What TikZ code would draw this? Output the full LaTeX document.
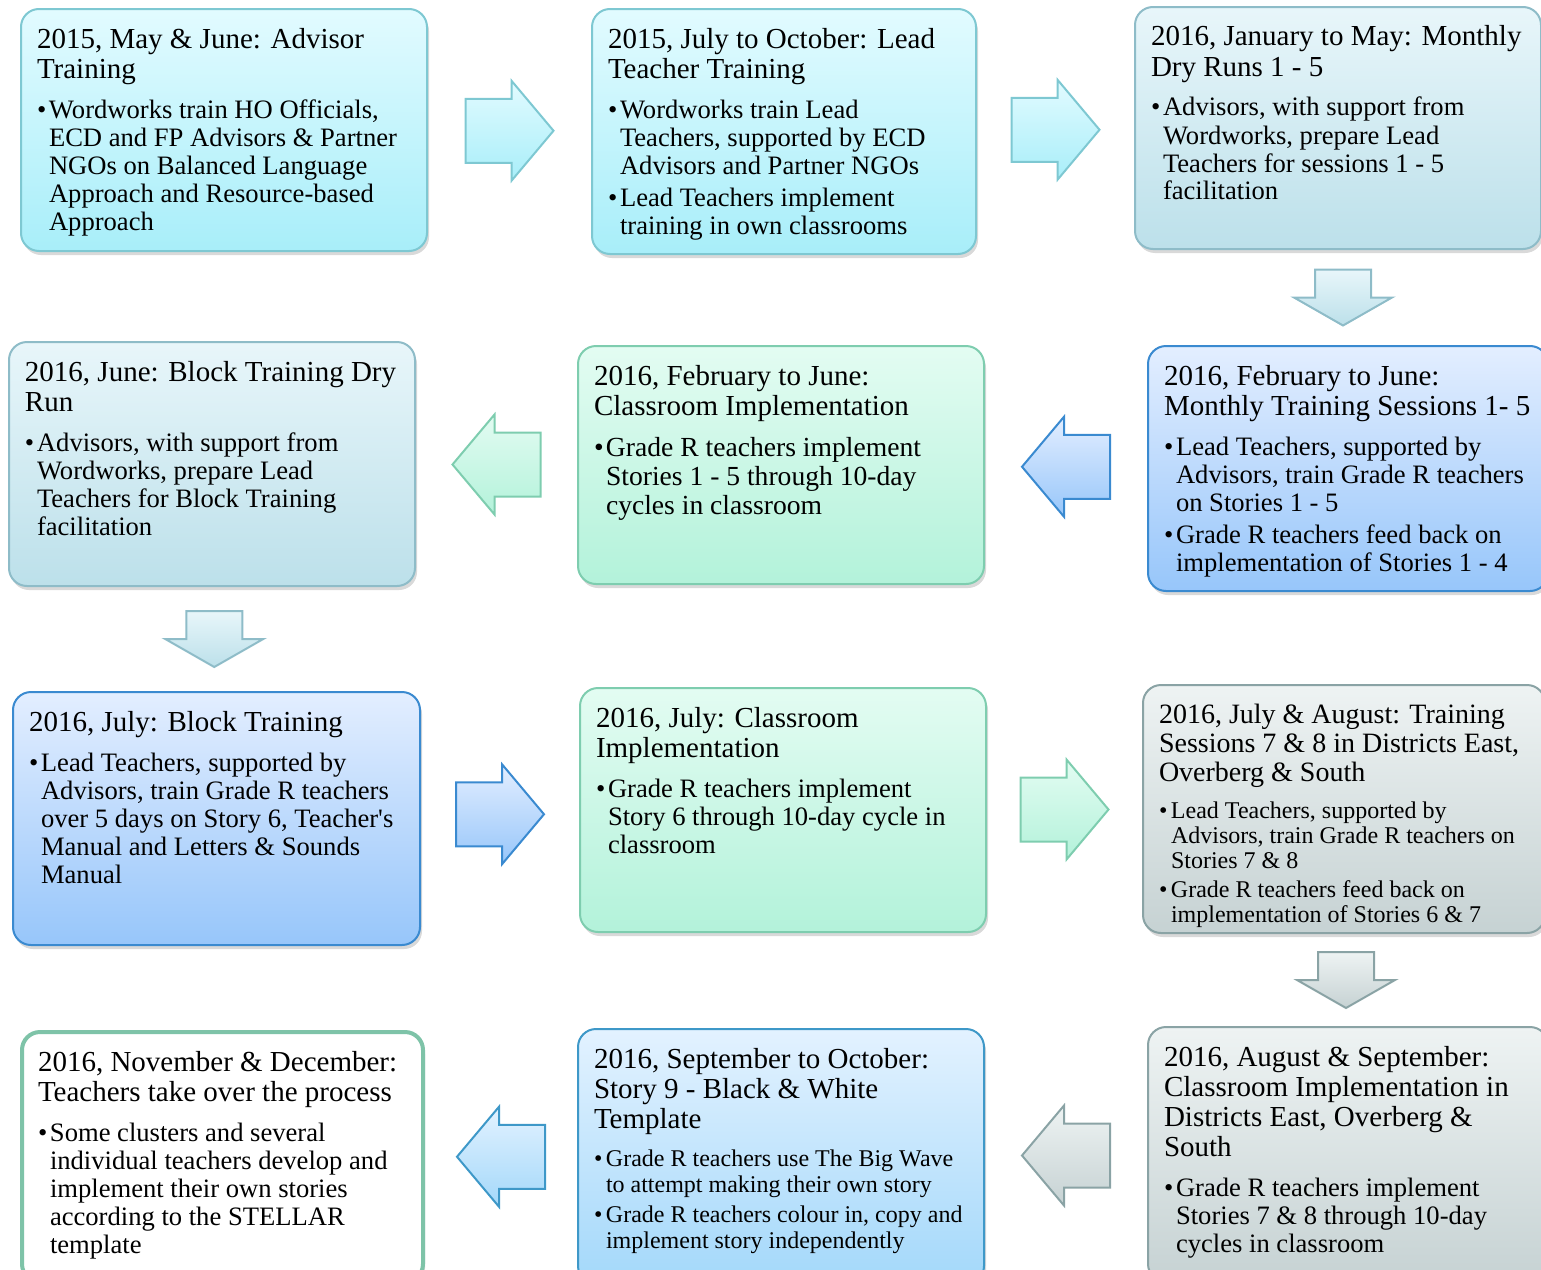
\documentclass[tikz,border=0pt]{standalone}
\usepackage{fontspec}
\setmainfont{Liberation Serif}
\usetikzlibrary{calc,shadows}

\definecolor{cyantop}{HTML}{E2FBFF}
\definecolor{cyanbot}{HTML}{A8EEF9}
\definecolor{cyanline}{HTML}{7EC8D2}
\definecolor{paletop}{HTML}{E8F6FA}
\definecolor{palebot}{HTML}{BCE0EA}
\definecolor{paleline}{HTML}{8EBCC8}
\definecolor{bluetop}{HTML}{E3EEFF}
\definecolor{bluebot}{HTML}{97C6FA}
\definecolor{blueline}{HTML}{3A8AD0}
\definecolor{minttop}{HTML}{E3FCF2}
\definecolor{mintbot}{HTML}{B3F2DA}
\definecolor{mintline}{HTML}{7ECDAF}
\definecolor{graytop}{HTML}{EEF3F3}
\definecolor{graybot}{HTML}{C6D2D3}
\definecolor{grayline}{HTML}{8AA3A5}
\definecolor{skytop}{HTML}{E3F2FF}
\definecolor{skybot}{HTML}{A3D8FA}
\definecolor{skyline}{HTML}{3E98C8}
\definecolor{lastline}{HTML}{7EC3A8}

% text block of a stage: width, height, content
\newcommand{\stagetext}[3]{\makebox[#1][l]{\parbox[t][#2][t]{\dimexpr#1+30pt\relax}{\rightskip=0pt plus 1fil #3}}}
\newcommand{\stagetitle}[1]{{\fontsize{14.5}{15}\selectfont\strut #1\par}\vspace{6pt}}
\newcommand{\stagebullet}[1]{\par\hangindent=6pt\hangafter=1\noindent\makebox[6pt][l]{\textbullet}#1\par\vspace{2pt}}

\tikzset{
  stage/.style={draw, line width=1pt, rounded corners=9pt, anchor=north west,
    inner xsep=8pt, inner ysep=9pt, font=\fontsize{13.3}{14}\selectfont,
    drop shadow={opacity=0.3, shadow xshift=1pt, shadow yshift=-2pt}},
  cyanbox/.style={stage, top color=cyantop, bottom color=cyanbot, draw=cyanline},
  palebox/.style={stage, top color=paletop, bottom color=palebot, draw=paleline},
  bluebox/.style={stage, top color=bluetop, bottom color=bluebot, draw=blueline},
  mintbox/.style={stage, top color=minttop, bottom color=mintbot, draw=mintline},
  graybox/.style={stage, top color=graytop, bottom color=graybot, draw=grayline},
  skybox/.style={stage, top color=skytop, bottom color=skybot, draw=skyline},
  lastbox/.style={stage, fill=white, draw=lastline, line width=2pt},
  blockarrow/.style={line width=1pt, drop shadow={opacity=0.25, shadow xshift=1pt, shadow yshift=-1.5pt}},
  rblock/.pic={\path[pic actions] (-44,-32) -- (2,-32) -- (2,-50) -- (44,0) -- (2,50) -- (2,32) -- (-44,32) -- cycle;},
  lblock/.pic={\path[pic actions] (44,-32) -- (-2,-32) -- (-2,-50) -- (-44,0) -- (-2,50) -- (-2,32) -- (44,32) -- cycle;},
  dblock/.pic={\path[pic actions] (-28,-28) -- (28,-28) -- (28,0) -- (49,0) -- (0,28) -- (-49,0) -- (-28,0) -- cycle;},
}

\begin{document}
\begin{tikzpicture}[x=0.5pt, y=-0.5pt]
\useasboundingbox (0,0) rectangle (1541,1269);

% row 1
\node[cyanbox] (s1) at (20,8) {\stagetext{187pt}{103pt}{%
  \stagetitle{2015, May \& June: Advisor\\Training}
  \stagebullet{Wordworks train HO Officials,\\ECD and FP Advisors \& Partner\\NGOs on Balanced Language\\Approach and Resource-based\\Approach}}};
\node[cyanbox] (s2) at (591,8) {\stagetext{176pt}{104.5pt}{%
  \stagetitle{2015, July to October: Lead\\Teacher Training}
  \stagebullet{Wordworks train Lead\\Teachers, supported by ECD\\Advisors and Partner NGOs}
  \stagebullet{Lead Teachers implement\\training in own classrooms}}};
\node[palebox] (s3) at (1134,6) {\stagetext{187pt}{103pt}{%
  \stagetitle{2016, January to May: Monthly\\Dry Runs 1 - 5}
  \stagebullet{Advisors, with support from\\Wordworks, prepare Lead\\Teachers for sessions 1 - 5\\facilitation}}};

% row 2
\node[bluebox] (s6) at (1147,345) {\stagetext{184pt}{104.5pt}{%
  \stagetitle{2016, February to June:\\Monthly Training Sessions 1- 5}
  \stagebullet{Lead Teachers, supported by\\Advisors, train Grade R teachers\\on Stories 1 - 5}
  \stagebullet{Grade R teachers feed back on\\implementation of Stories 1 - 4}}};
\node[mintbox, font=\fontsize{13.8}{14.5}\selectfont] (s5) at (577,345) {\stagetext{187pt}{101pt}{%
  \stagetitle{2016, February to June:\\Classroom Implementation}
  \stagebullet{Grade R teachers implement\\Stories 1 - 5 through 10-day\\cycles in classroom}}};
\node[palebox] (s4) at (8,341) {\stagetext{187pt}{104pt}{%
  \stagetitle{2016, June: Block Training Dry\\Run}
  \stagebullet{Advisors, with support from\\Wordworks, prepare Lead\\Teachers for Block Training\\facilitation}}};

% row 3
\node[bluebox] (s7) at (12,691) {\stagetext{187.5pt}{108.5pt}{%
  \stagetitle{2016, July: Block Training}
  \stagebullet{Lead Teachers, supported by\\Advisors, train Grade R teachers\\over 5 days on Story 6, Teacher\textquotesingle s\\Manual and Letters \& Sounds\\Manual}}};
\node[mintbox] (s8) at (579,687) {\stagetext{187pt}{104pt}{%
  \stagetitle{2016, July: Classroom\\Implementation}
  \stagebullet{Grade R teachers implement\\Story 6 through 10-day cycle in\\classroom}}};
\node[graybox, font=\fontsize{12}{12.5}\selectfont] (s9) at (1142,684) {\stagetext{185pt}{106pt}{%
  {\fontsize{14}{14.5}\selectfont\strut 2016, July \& August: Training\\Sessions 7 \& 8 in Districts East,\\Overberg \& South\par}\vspace{6pt}
  \stagebullet{Lead Teachers, supported by\\Advisors, train Grade R teachers on\\Stories 7 \& 8}
  \stagebullet{Grade R teachers feed back on\\implementation of Stories 6 \& 7}}};

% row 4
\node[graybox] (s10) at (1147,1026) {\stagetext{184pt}{109.5pt}{%
  \stagetitle{2016, August \& September:\\Classroom Implementation in\\Districts East, Overberg \&\\South}
  \stagebullet{Grade R teachers implement\\Stories 7 \& 8 through 10-day\\cycles in classroom}}};
\node[skybox, font=\fontsize{12}{13}\selectfont] (s11) at (577,1028) {\stagetext{187pt}{109.5pt}{%
  \stagetitle{2016, September to October:\\Story 9 - Black \& White\\Template}
  \stagebullet{Grade R teachers use The Big Wave\\to attempt making their own story}
  \stagebullet{Grade R teachers colour in, copy and\\implement story independently}}};
\node[lastbox] (s12) at (20,1030) {\stagetext{184.5pt}{107pt}{%
  \stagetitle{2016, November \& December:\\Teachers take over the process}
  \stagebullet{Some clusters and several\\individual teachers develop and\\implement their own stories\\according to the STELLAR\\template}}};

% block arrows between the stages
\pic[blockarrow, top color=cyantop, bottom color=cyanbot, draw=cyanline] at ($(s1.east)!0.5!(s2.west)$) {rblock};
\pic[blockarrow, top color=cyantop, bottom color=cyanbot, draw=cyanline] at ($(s2.east)!0.5!(s3.west)$) {rblock};
\pic[blockarrow, top color=paletop, bottom color=palebot, draw=paleline] at ($(s3.south)!0.5!(s6.north)$) {dblock};
\pic[blockarrow, top color=bluetop, bottom color=bluebot, draw=blueline] at ($(s6.west)!0.5!(s5.east)$) {lblock};
\pic[blockarrow, top color=minttop, bottom color=mintbot, draw=mintline] at ($(s5.west)!0.5!(s4.east)$) {lblock};
\pic[blockarrow, top color=paletop, bottom color=palebot, draw=paleline] at ($(s4.south)!0.5!(s7.north)$) {dblock};
\pic[blockarrow, top color=bluetop, bottom color=bluebot, draw=blueline] at ($(s7.east)!0.5!(s8.west)$) {rblock};
\pic[blockarrow, top color=minttop, bottom color=mintbot, draw=mintline] at ($(s8.east)!0.5!(s9.west)$) {rblock};
\pic[blockarrow, top color=graytop, bottom color=graybot, draw=grayline] at ($(s9.south)!0.5!(s10.north)$) {dblock};
\pic[blockarrow, top color=graytop, bottom color=graybot, draw=grayline] at ($(s10.west)!0.5!(s11.east)$) {lblock};
\pic[blockarrow, top color=skytop, bottom color=skybot, draw=skyline] at ($(s11.west)!0.5!(s12.east)$) {lblock};
\end{tikzpicture}
\end{document}
